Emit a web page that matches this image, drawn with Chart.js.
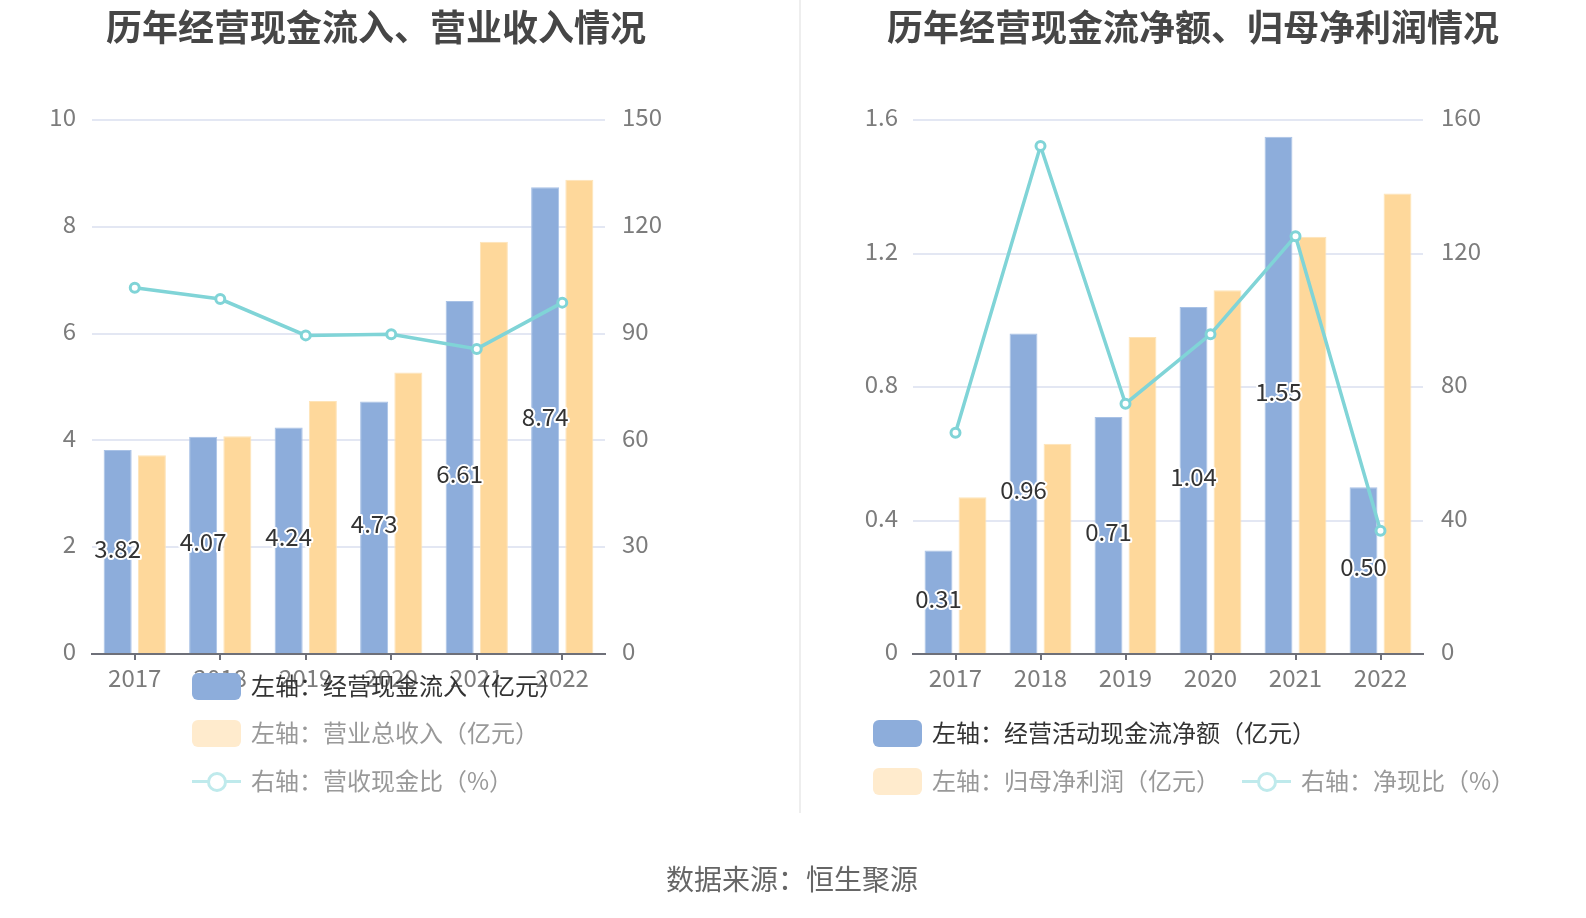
<!DOCTYPE html>
<html>
<head>
<meta charset="utf-8">
<script src="https://cdn.jsdelivr.net/npm/chart.js@4.4.0/dist/chart.umd.min.js"></script>
<style>
  body { margin: 0; background: #fff; }
  #page { position: relative; width: 1586px; height: 918px; overflow: hidden;
          font-family: "Noto Sans CJK SC", "Noto Sans", sans-serif; }
  canvas { position: absolute; top: 0; }
  .title { position: absolute; top: 6px; line-height: 38px; font-size: 36px; font-weight: bold;
           color: #464646; white-space: nowrap; transform: translateX(-50%); }
  .divider { position: absolute; left: 799px; top: 0; width: 2px; height: 813px; background: #eeeeee; }
  .source { position: absolute; left: 792px; top: 861px; font-size: 28px; line-height: 34px;
            color: #666; white-space: nowrap; transform: translateX(-50%); }
  .lg { position: absolute; height: 28px; line-height: 28px; font-size: 24px; white-space: nowrap; }
  .lg .box { position: absolute; left: 0; top: 1px; width: 49px; height: 27px; border-radius: 6px; }
  .lg .ln { position: absolute; left: 0; top: 13px; width: 49px; height: 3px; }
  .lg .dot { position: absolute; left: 15px; top: 5px; width: 14px; height: 14px; border-radius: 50%;
             border: 3px solid; background: #fff; }
  .lg .txt { position: absolute; left: 59px; top: -1px; }
</style>
</head>
<body>
<div id="page">
  <canvas id="leftChart" width="793" height="918" style="left:0"></canvas>
  <canvas id="rightChart" width="786" height="918" style="left:800px"></canvas>
  <div class="divider"></div>
  <div class="title" style="left:376px">历年经营现金流入、营业收入情况</div>
  <div class="title" style="left:1193px">历年经营现金流净额、归母净利润情况</div>
  <div class="source">数据来源：恒生聚源</div>
</div>
<script>
const years = ['2017', '2018', '2019', '2020', '2021', '2022'];

// left chart
const cashIn = [3.82, 4.07, 4.24, 4.73, 6.61, 8.74];
const revenue = [3.72, 4.08, 4.74, 5.27, 7.72, 8.88];
const cashRatio = [102.9, 99.7, 89.5, 89.8, 85.7, 98.7];
const leftTicksA = [0, 2, 4, 6, 8, 10];
const rightTicksA = [0, 30, 60, 90, 120, 150];

// right chart
const netCash = [0.31, 0.96, 0.71, 1.04, 1.55, 0.50];
const netProfit = [0.47, 0.63, 0.95, 1.09, 1.25, 1.38];
const netRatio = [66.3, 152.2, 75.0, 95.8, 125.2, 36.9];
const leftTicksB = [0, 0.4, 0.8, 1.2, 1.6];
const rightTicksB = [0, 40, 80, 120, 160];

const FONT = '"Noto Sans CJK SC", "Noto Sans", sans-serif';
const BLUE = '#8daddb';
const ORANGE = '#fed89b';
const TEAL = '#80d4d7';
const TICK_COLOR = '#7c7c7c';
const GRID_COLOR = '#e3e7f3';
const AXIS_COLOR = '#6e7079';

Chart.defaults.font.family = FONT;

// value labels in the middle of the blue bars
const barLabels = {
    id: 'barLabels',
    afterDatasetsDraw(chart) {
        const ctx = chart.ctx;
        const meta = chart.getDatasetMeta(1);
        const values = chart.data.datasets[1].data;
        ctx.save();
        ctx.font = '24px ' + FONT;
        ctx.textAlign = 'center';
        ctx.textBaseline = 'middle';
        ctx.lineJoin = 'round';
        meta.data.forEach((bar, i) => {
            const y = (bar.y + bar.base) / 2 - 3;
            const txt = values[i].toFixed(2);
            ctx.lineWidth = 4;
            ctx.strokeStyle = '#fff';
            ctx.strokeText(txt, bar.x, y);
            ctx.fillStyle = '#333';
            ctx.fillText(txt, bar.x, y);
        });
        ctx.restore();
    }
};

function fixedTicks(list) {
    return scale => { scale.ticks = list.map(v => ({ value: v })); };
}

function makeChart(id, s, area) {
    const ctx = document.getElementById(id).getContext('2d');
    return new Chart(ctx, {
        type: 'bar',
        data: {
            labels: years,
            datasets: [
                {
                    type: 'line',
                    label: s.lineLabel,
                    data: s.line,
                    yAxisID: 'y1',
                    borderColor: TEAL,
                    borderWidth: 3.5,
                    pointRadius: 4.5,
                    pointBorderWidth: 3,
                    pointBackgroundColor: '#fff',
                    pointBorderColor: TEAL,
                    tension: 0,
                    order: 0
                },
                {
                    label: s.barLabel1,
                    data: s.bar1,
                    yAxisID: 'y',
                    backgroundColor: BLUE,
                    borderColor: '#a9c2e6',
                    borderWidth: 1,
                    categoryPercentage: 0.8,
                    barPercentage: 0.82,
                    order: 1
                },
                {
                    label: s.barLabel2,
                    data: s.bar2,
                    yAxisID: 'y',
                    backgroundColor: ORANGE,
                    borderColor: '#fee4b8',
                    borderWidth: 1,
                    categoryPercentage: 0.8,
                    barPercentage: 0.82,
                    order: 2
                }
            ]
        },
        options: {
            responsive: false,
            animation: false,
            devicePixelRatio: 1,
            layout: { padding: { top: area.top, left: 0, right: 0, bottom: 0 } },
            plugins: {
                legend: { display: false },
                tooltip: { enabled: false },
                title: { display: false }
            },
            scales: {
                x: {
                    grid: { display: true, offset: false, drawOnChartArea: false, drawTicks: true,
                            tickLength: 6, color: AXIS_COLOR, lineWidth: 2 },
                    border: { display: true, color: AXIS_COLOR, width: 2 },
                    ticks: { color: TICK_COLOR, font: { size: 24 }, padding: 3, maxRotation: 0 },
                    afterFit: sc => { sc.height = area.xHeight; }
                },
                y: {
                    position: 'left',
                    min: s.leftTicks[0],
                    max: s.leftTicks[s.leftTicks.length - 1],
                    afterBuildTicks: fixedTicks(s.leftTicks),
                    grid: { color: GRID_COLOR, lineWidth: 2, drawTicks: false },
                    border: { display: false },
                    ticks: { color: TICK_COLOR, font: { size: 24 }, padding: area.leftPad,
                             labelOffset: -3, callback: v => String(v) },
                    afterFit: sc => { sc.width = area.left; }
                },
                y1: {
                    position: 'right',
                    min: s.rightTicks[0],
                    max: s.rightTicks[s.rightTicks.length - 1],
                    afterBuildTicks: fixedTicks(s.rightTicks),
                    grid: { drawOnChartArea: false, drawTicks: false },
                    border: { display: false },
                    ticks: { color: TICK_COLOR, font: { size: 24 }, padding: area.rightPad,
                             labelOffset: -3, callback: v => String(v) },
                    afterFit: sc => { sc.width = area.right; }
                }
            }
        },
        plugins: [barLabels]
    });
}

// legend drawn as html text on top of the page
function addLegend(chart, items) {
    const page = document.getElementById('page');
    const ds = chart.data.datasets;
    items.forEach(it => {
        const d = ds[it.index];
        const el = document.createElement('div');
        el.className = 'lg';
        el.style.left = it.x + 'px';
        el.style.top = (it.y - 14) + 'px';
        let icon;
        if (d.type === 'line') {
            icon = '<div class="ln" style="background:' + it.color + '"></div>' +
                   '<div class="dot" style="border-color:' + it.color + '"></div>';
        } else {
            icon = '<div class="box" style="background:' + it.color + '"></div>';
        }
        el.innerHTML = icon + '<div class="txt" style="color:' + it.text + '">' + d.label + '</div>';
        page.appendChild(el);
    });
}

const chartA = makeChart('leftChart', {
    bar1: cashIn, bar2: revenue, line: cashRatio,
    barLabel1: '左轴：经营现金流入（亿元）',
    barLabel2: '左轴：营业总收入（亿元）',
    lineLabel: '右轴：营收现金比（%）',
    leftTicks: leftTicksA, rightTicks: rightTicksA
}, { top: 120, left: 92, right: 188, xHeight: 264, leftPad: 16, rightPad: 17 });

const chartB = makeChart('rightChart', {
    bar1: netCash, bar2: netProfit, line: netRatio,
    barLabel1: '左轴：经营活动现金流净额（亿元）',
    barLabel2: '左轴：归母净利润（亿元）',
    lineLabel: '右轴：净现比（%）',
    leftTicks: leftTicksB, rightTicks: rightTicksB
}, { top: 120, left: 113, right: 163, xHeight: 264, leftPad: 15, rightPad: 18 });

addLegend(chartA, [
    { index: 1, x: 192, y: 686, color: BLUE, text: '#333' },
    { index: 2, x: 192, y: 733, color: '#ffebcd', text: '#999' },
    { index: 0, x: 192, y: 781, color: '#bfeaec', text: '#999' }
]);
addLegend(chartB, [
    { index: 1, x: 873, y: 733, color: BLUE, text: '#333' },
    { index: 2, x: 873, y: 781, color: '#ffebcd', text: '#999' },
    { index: 0, x: 1242, y: 781, color: '#bfeaec', text: '#999' }
]);
</script>
</body>
</html>
